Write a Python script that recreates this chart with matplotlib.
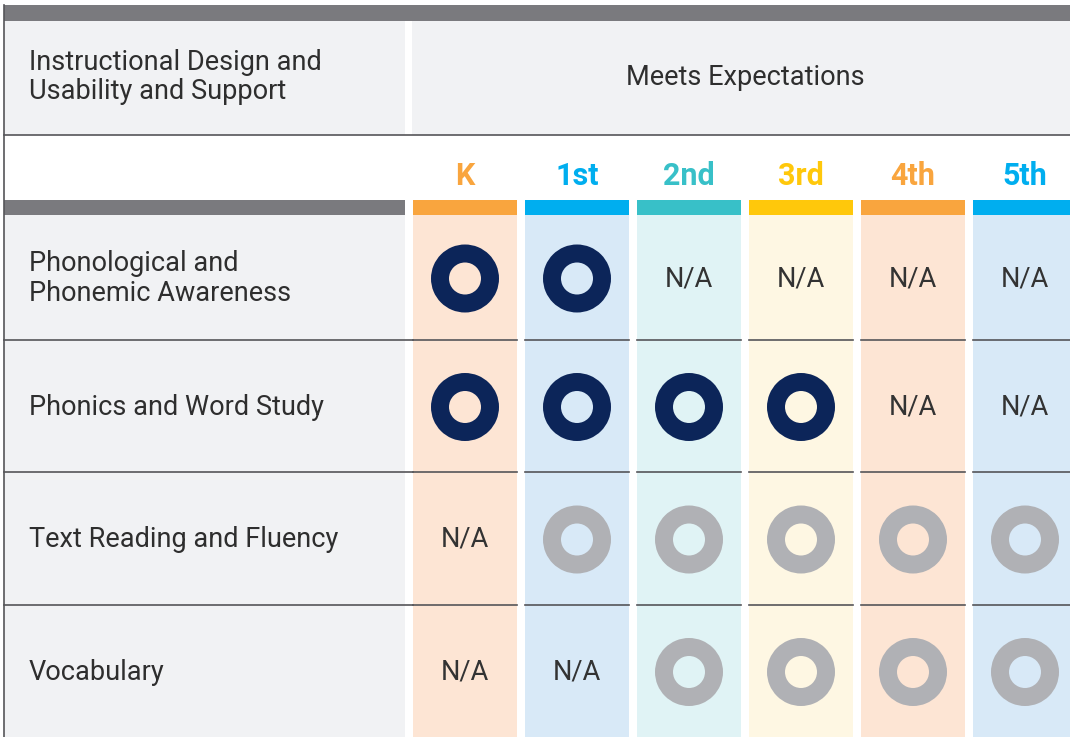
import matplotlib.pyplot as plt
from matplotlib.patches import Rectangle, Wedge

# table content
header_left = "Instructional Design and\nUsability and Support"
header_right = "Meets Expectations"
grades = ["K", "1st", "2nd", "3rd", "4th", "5th"]
grade_colors = ["#f9a53e", "#00aeef", "#38c0c8", "#ffc80b", "#f9a53e", "#00aeef"]
cell_colors = ["#fde5d4", "#d8e9f7", "#e0f3f5", "#fef7e3", "#fde5d4", "#d8e9f7"]
criteria = ["Phonological and\nPhonemic Awareness", "Phonics and Word Study",
            "Text Reading and Fluency", "Vocabulary"]
# M = meets (navy), P = partially (gray), NA = not applicable
ratings = [
    ["M", "M", "NA", "NA", "NA", "NA"],
    ["M", "M", "M", "M", "NA", "NA"],
    ["NA", "P", "P", "P", "P", "P"],
    ["NA", "NA", "P", "P", "P", "P"],
]
donut_colors = {"M": "#0c2559", "P": "#b0b1b5"}

W, H = 1070, 737
fig = plt.figure(figsize=(W / 100, H / 100), dpi=100)
ax = fig.add_axes([0, 0, 1, 1])
ax.set_xlim(0, W)
ax.set_ylim(H, 0)
ax.axis('off')

font = ['Roboto', 'DejaVu Sans']
dark = "#7a7a7e"
line = "#555559"
light = "#f1f2f4"
txt = "#2e2e2e"
fs = 19.5

# top bar
ax.add_patch(Rectangle((4, 5), W - 4, 16, color=dark, lw=0))
# header cells
ax.add_patch(Rectangle((4, 21), 401, 114, color=light, lw=0))
ax.add_patch(Rectangle((412, 21), W - 412, 114, color=light, lw=0))
ax.plot([4, W], [135, 135], color=line, lw=1.2)
ax.plot([4, 4], [5, H], color=line, lw=1.2)
ax.text(29, 77, header_left, fontsize=fs, family=font,
        color=txt, va='center', ha='left', linespacing=1.1)
ax.text(745, 77, header_right, fontsize=fs, family=font,
        color=txt, va='center', ha='center')

# left gray bar above data
ax.add_patch(Rectangle((4, 200), 401, 15, color=dark, lw=0))

row_top = [215, 340, 472, 605, H]
col_x0 = 413
col_w = 104
col_step = 112

# left criteria cells
ax.add_patch(Rectangle((4, 215), 401, H - 215, color=light, lw=0))
for r, name in enumerate(criteria):
    yc = (row_top[r] + row_top[r + 1]) / 2
    ax.text(29, yc + 1, name, fontsize=fs, family=font,
            color=txt, va='center', ha='left', linespacing=1.1)
    if r > 0:
        ax.plot([4, 413], [row_top[r], row_top[r]], color=line, lw=1.2)

for c, g in enumerate(grades):
    x0 = col_x0 + c * col_step
    xc = x0 + col_w / 2
    ax.text(xc, 176, g, fontsize=22, family=font, fontweight='bold',
            color=grade_colors[c], ha='center', va='center')
    ax.add_patch(Rectangle((x0, 200), col_w, 15, color=grade_colors[c], lw=0))
    ax.add_patch(Rectangle((x0, 215), col_w, H - 215, color=cell_colors[c], lw=0))
    for r in range(len(criteria)):
        if r > 0:
            ax.plot([x0, x0 + col_w], [row_top[r], row_top[r]], color=line, lw=1.2)
        yc = (row_top[r] + row_top[r + 1]) / 2 + 1
        v = ratings[r][c]
        if v == "NA":
            ax.text(xc, yc, "N/A", fontsize=fs, family=font,
                    color="#333333", ha='center', va='center')
        else:
            ax.add_patch(Wedge((xc, yc), 34, 0, 360, width=18,
                               color=donut_colors[v], lw=0))

fig.savefig("out.png", dpi=100)
